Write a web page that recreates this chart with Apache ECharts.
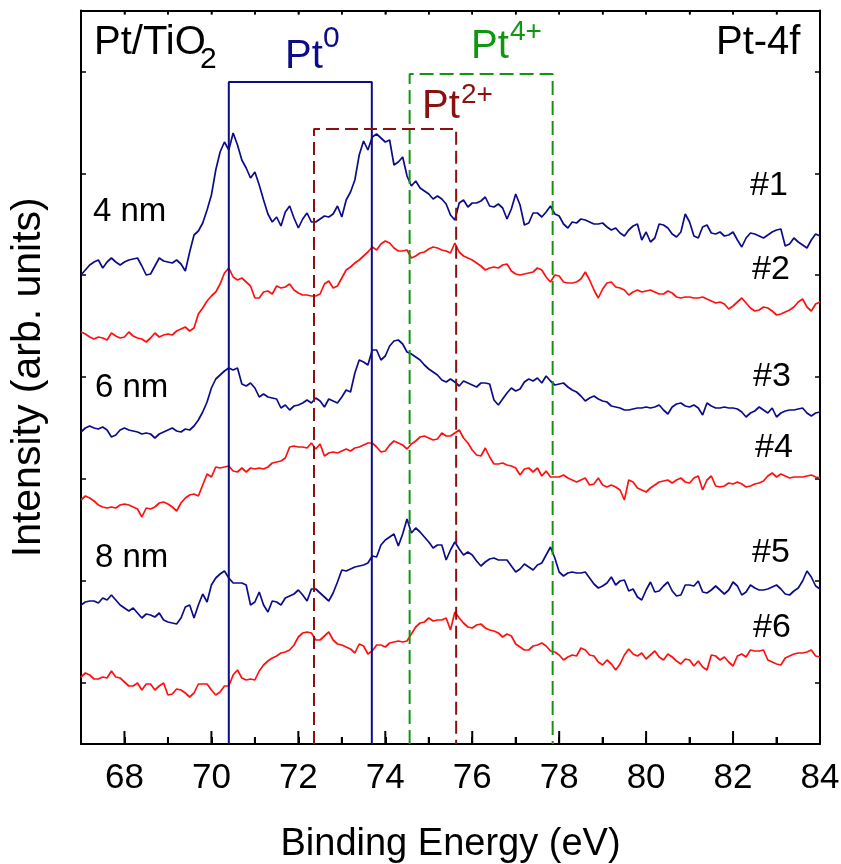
<!DOCTYPE html>
<html>
<head>
<meta charset="utf-8">
<script src="https://cdn.jsdelivr.net/npm/echarts@6/dist/echarts.min.js"></script>
<style>html,body{margin:0;padding:0;background:#fff}#chart{width:841px;height:864px}</style>
</head>
<body>
<div id="chart"></div>
<script>
// Binding energy sampling (eV)
const energy = [
67.0,67.1,67.2,67.3,67.4,67.5,67.6,67.7,67.8,67.9,
68.0,68.1,68.2,68.3,68.4,68.5,68.6,68.7,68.8,68.9,
69.0,69.1,69.2,69.3,69.4,69.5,69.6,69.7,69.8,69.9,
70.0,70.1,70.2,70.3,70.4,70.5,70.6,70.7,70.8,70.9,
71.0,71.1,71.2,71.3,71.4,71.5,71.6,71.7,71.8,71.9,
72.0,72.1,72.2,72.3,72.4,72.5,72.6,72.7,72.8,72.9,
73.0,73.1,73.2,73.3,73.4,73.5,73.6,73.7,73.8,73.9,
74.0,74.1,74.2,74.3,74.4,74.5,74.6,74.7,74.8,74.9,
75.0,75.1,75.2,75.3,75.4,75.5,75.6,75.7,75.8,75.9,
76.0,76.1,76.2,76.3,76.4,76.5,76.6,76.7,76.8,76.9,
77.0,77.1,77.2,77.3,77.4,77.5,77.6,77.7,77.8,77.9,
78.0,78.1,78.2,78.3,78.4,78.5,78.6,78.7,78.8,78.9,
79.0,79.1,79.2,79.3,79.4,79.5,79.6,79.7,79.8,79.9,
80.0,80.1,80.2,80.3,80.4,80.5,80.6,80.7,80.8,80.9,
81.0,81.1,81.2,81.3,81.4,81.5,81.6,81.7,81.8,81.9,
82.0,82.1,82.2,82.3,82.4,82.5,82.6,82.7,82.8,82.9,
83.0,83.1,83.2,83.3,83.4,83.5,83.6,83.7,83.8,83.9,
84.0];

// Intensities (arb. units, stacked with offsets as in the figure)
const spec1 = [ // #1, 4 nm
725,730,735,738,740,732,738,742,738,735,
738,740,741,742,734,725,726,734,742,739,
738,737,740,736,729,748,765,769,777,790,
805,830,848,858,850,867,855,840,832,822,
828,815,800,786,778,783,774,788,794,782,
772,781,787,778,778,781,784,783,786,794,
783,800,808,820,845,859,850,863,866,862,
858,860,835,838,843,824,814,819,812,809,
806,801,804,801,796,785,780,797,800,793,
797,797,799,803,794,793,796,792,781,791,
806,795,775,777,787,787,783,788,794,786,
784,776,772,778,777,781,780,778,776,776,
777,773,770,772,767,764,770,774,776,760,
768,758,762,776,775,772,766,763,768,786,
778,764,762,773,775,767,766,768,764,765,
768,760,753,762,767,766,764,762,765,768,
770,771,754,756,762,758,755,752,760,766,
764];
const spec2 = [ // #2, 4 nm
668,666,663,661,663,662,660,667,664,662,
663,668,664,662,661,658,662,667,663,665,
666,665,669,671,673,669,672,686,692,699,
704,708,716,727,732,723,720,722,718,714,
702,702,708,709,706,714,712,713,716,710,
707,705,705,704,704,706,716,719,712,714,
722,730,733,737,740,744,748,753,750,756,
759,757,752,749,749,750,742,744,747,748,
751,753,752,750,749,747,757,748,744,742,
740,737,734,730,732,733,732,735,736,729,
726,725,726,727,728,732,730,723,718,725,
724,718,717,717,718,721,728,720,710,702,
711,717,718,713,712,710,705,708,710,708,
709,710,708,706,706,709,707,703,702,703,
703,702,702,703,701,699,697,698,696,691,
694,698,702,697,692,689,690,693,692,689,
685,686,688,690,693,698,701,693,689,696,
698];
const spec3 = [ // #3, 6 nm
568,572,574,572,571,573,570,563,565,570,
572,570,569,568,566,567,566,562,566,568,
570,572,569,568,571,570,574,580,588,598,
612,621,625,629,632,630,632,616,614,617,
612,603,606,603,602,601,592,595,590,594,
595,597,600,597,602,599,593,601,599,597,
603,610,608,627,640,638,635,650,650,640,
644,654,659,660,656,648,646,643,640,635,
631,628,625,620,618,621,618,614,619,617,
615,613,617,617,616,600,595,601,607,612,
609,611,618,621,619,622,617,624,619,615,
616,617,613,610,608,604,599,602,604,601,
599,598,594,593,592,590,590,591,592,592,
593,592,593,595,590,586,593,596,597,594,
593,595,592,585,597,594,592,592,593,592,
592,591,588,583,587,589,593,590,587,592,
583,587,589,590,590,591,592,587,584,587,
588];
const spec4 = [ // #4, 6 nm
500,504,502,499,495,493,492,493,492,495,
496,495,493,491,483,492,491,493,497,498,
496,493,489,497,502,505,506,504,515,526,
523,533,532,533,534,529,528,532,528,532,
531,532,531,533,537,538,539,542,553,554,
553,553,552,557,551,556,544,547,548,547,
549,551,549,552,553,555,557,557,553,548,
549,555,559,557,555,551,556,559,563,564,
562,560,561,567,564,564,567,570,562,557,
550,545,544,552,543,536,536,537,535,534,
532,525,531,532,528,532,524,529,523,523,
523,525,522,520,518,520,522,515,516,522,
515,513,515,513,510,500,520,518,512,510,
508,512,515,518,519,520,517,520,522,518,
517,522,524,510,520,524,514,513,514,517,
516,518,516,513,514,516,517,519,524,527,
523,526,524,522,523,523,523,524,525,523,
522];
const spec5 = [ // #5, 8 nm
395,398,399,399,397,402,400,405,400,395,
392,389,392,387,382,386,385,383,387,380,
378,377,376,382,393,395,382,395,406,398,
415,422,426,429,422,417,417,417,415,395,
398,408,395,388,399,398,395,402,404,406,
410,405,399,411,411,407,403,399,407,418,
430,429,431,433,434,435,437,444,443,455,
460,463,466,454,466,481,467,472,468,463,
458,452,455,455,440,450,458,451,445,448,
445,439,434,438,441,442,440,440,440,434,
428,431,436,433,430,435,437,445,453,442,
428,424,427,428,427,427,428,422,416,412,
414,417,423,415,419,420,409,411,403,400,
410,418,408,409,414,418,409,404,405,415,
415,414,419,408,407,410,414,410,406,410,
418,414,405,408,415,412,410,410,411,413,
415,411,406,405,409,412,419,429,423,414,
411];
const spec6 = [ // #6, 8 nm
323,327,325,321,321,323,322,329,323,322,
318,314,314,317,310,316,316,310,314,317,
305,306,311,310,307,303,307,316,316,316,
310,305,308,314,314,325,330,322,320,321,
320,329,335,339,342,344,347,348,350,355,
363,367,368,367,360,360,364,368,360,356,
355,353,351,347,356,354,346,349,355,355,
353,357,358,359,358,359,366,373,377,378,
382,379,380,380,382,370,388,382,377,373,
372,375,376,372,370,369,367,363,366,364,
356,353,350,350,354,355,357,354,349,348,
345,340,343,345,344,352,350,345,344,338,
335,340,336,330,336,345,351,346,344,347,
341,345,349,343,340,346,343,339,336,341,
340,334,339,333,330,345,344,340,343,338,
334,344,346,343,350,349,349,350,340,338,
336,335,342,344,346,347,347,348,350,344,
343];

// Axis ticks
const xMin = 67, xMax = 84;
const xMajorTicks = [68,70,72,74,76,78,80,82,84];
const xMinorTicks = [69,71,73,75,77,79,81,83];
const xTopTicks = [68,69,70,71,72,73,74,75,76,77,78,79,80,81,82,83];
const yTicks = [317.2,419.1,521,622.9,724.8,826.7,928.6];
const yMin = 256, yMax = 989.5;

// Chemical-state reference boxes: [left eV, right eV, top level]
const boxPt0 = [70.40, 73.69, 918];
const boxPt2 = [72.36, 75.63, 871];
const boxPt4 = [74.56, 77.85, 926];

const FONT = '"Liberation Sans", Arial, Helvetica, sans-serif';
const NAVY = '#0c0c88';
const RED = '#ff1010';
const DARKRED = '#8b1010';
const GREEN = '#129612';

function specSeries(arr, color) {
  return {
    type: 'line', xAxisIndex: 0, yAxisIndex: 0,
    data: energy.map((e, i) => [e, arr[i]]),
    symbol: 'none', showSymbol: false, silent: true,
    lineStyle: { color: color, width: 1.7 },
    z: 3
  };
}
function boxSeries(b, color, dash) {
  return {
    type: 'line', xAxisIndex: 0, yAxisIndex: 0,
    data: [[b[0], yMin], [b[0], b[2]], [b[1], b[2]], [b[1], yMin]],
    symbol: 'none', showSymbol: false, silent: true,
    lineStyle: { color: color, width: 2, type: dash },
    z: 4
  };
}
// Inward tick marks on the x frame, placed through the axis scale
function tickSeries(values, atValue, len, width) {
  return {
    type: 'custom', xAxisIndex: 0, yAxisIndex: 0, silent: true, clip: false, z: 6,
    data: values.map(v => [v, atValue]),
    renderItem: (params, api) => {
      const p = api.coord([api.value(0), api.value(1)]);
      const dir = api.value(1) >= yMax ? 1 : -1;
      return {
        type: 'line',
        shape: { x1: p[0], y1: p[1], x2: p[0], y2: p[1] + dir * len },
        style: { stroke: '#000', lineWidth: width }
      };
    }
  };
}

const labels = [
  { t: 'Pt/TiO', x: 94, y: 43, s: 40, c: '#000' },
  { t: '2', x: 200, y: 60, s: 30, c: '#000' },
  { t: 'Pt', x: 285, y: 57, s: 40, c: NAVY },
  { t: '0', x: 323, y: 39, s: 30, c: NAVY },
  { t: 'Pt', x: 471, y: 47, s: 40, c: GREEN },
  { t: '4+', x: 510, y: 32, s: 28, c: GREEN },
  { t: 'Pt', x: 422, y: 107, s: 40, c: DARKRED },
  { t: '2+', x: 461, y: 95, s: 28, c: DARKRED },
  { t: 'Pt-4f', x: 716, y: 43, s: 40, c: '#000' },
  { t: '4 nm', x: 93, y: 212, s: 33, c: '#000' },
  { t: '6 nm', x: 95, y: 388, s: 33, c: '#000' },
  { t: '8 nm', x: 95, y: 558, s: 33, c: '#000' },
  { t: '#1', x: 750, y: 186, s: 34, c: '#000' },
  { t: '#2', x: 752, y: 270, s: 34, c: '#000' },
  { t: '#3', x: 753, y: 377, s: 34, c: '#000' },
  { t: '#4', x: 755, y: 448, s: 34, c: '#000' },
  { t: '#5', x: 752, y: 553, s: 34, c: '#000' },
  { t: '#6', x: 753, y: 628, s: 34, c: '#000' }
];

const axisLineStyle = { color: '#000', width: 2 };
const option = {
  animation: false,
  backgroundColor: '#fff',
  grid: { left: 81, right: 21, top: 10.5, bottom: 120, containLabel: false, outerBoundsMode: 'none' },
  xAxis: [
    {
      type: 'value', min: xMin, max: xMax, interval: 1, position: 'bottom',
      axisLine: { show: true, onZero: false, lineStyle: axisLineStyle },
      axisTick: { show: true, inside: true, length: 7, lineStyle: { color: '#000', width: 2 } },
      axisLabel: {
        show: true, fontSize: 35, fontFamily: FONT, color: '#000', margin: 17,
        showMinLabel: true, showMaxLabel: true,
        formatter: v => (Math.round(v) % 2 === 0 ? String(Math.round(v)) : '')
      },
      splitLine: { show: false },
      name: 'Binding Energy (eV)', nameLocation: 'middle', nameGap: 82,
      nameTextStyle: { fontSize: 38, fontFamily: FONT, color: '#000' }
    },
    {
      type: 'value', min: xMin, max: xMax, interval: 1, position: 'top',
      axisLine: { show: true, onZero: false, lineStyle: axisLineStyle },
      axisTick: { show: true, inside: true, length: 4, lineStyle: { color: '#000', width: 1.5 } },
      axisLabel: { show: false },
      splitLine: { show: false }
    }
  ],
  yAxis: [
    {
      type: 'value', min: yMin, max: yMax, position: 'left',
      axisLine: { show: true, onZero: false, lineStyle: axisLineStyle },
      axisTick: { show: true, inside: true, length: 5, customValues: yTicks, lineStyle: { color: '#000', width: 1.5 } },
      axisLabel: { show: false },
      splitLine: { show: false },
      name: 'Intensity (arb. units)', nameLocation: 'middle', nameGap: 32,
      nameTextStyle: { fontSize: 41, fontFamily: FONT, color: '#000' }
    },
    {
      type: 'value', min: yMin, max: yMax, position: 'right',
      axisLine: { show: true, onZero: false, lineStyle: axisLineStyle },
      axisTick: { show: true, inside: true, length: 5, customValues: yTicks, lineStyle: { color: '#000', width: 1.5 } },
      axisLabel: { show: false },
      splitLine: { show: false }
    }
  ],
  series: [
    specSeries(spec1, NAVY),
    specSeries(spec2, RED),
    specSeries(spec3, NAVY),
    specSeries(spec4, RED),
    specSeries(spec5, NAVY),
    specSeries(spec6, RED),
    boxSeries(boxPt0, NAVY, 'solid'),
    boxSeries(boxPt2, DARKRED, [13, 6]),
    boxSeries(boxPt4, GREEN, [14, 6]),
    tickSeries(xMajorTicks, yMin, 13, 2),
    tickSeries(xMinorTicks, yMin, 7, 2),
    tickSeries(xTopTicks, yMax, 4, 1.5)
  ],
  graphic: labels.map(l => ({
    type: 'text', x: l.x, y: l.y, silent: true, z: 10,
    style: {
      text: l.t, fill: l.c,
      font: l.s + 'px ' + FONT,
      textAlign: 'left', textVerticalAlign: 'middle',
      align: 'left', verticalAlign: 'middle'
    }
  }))
};
const chart = echarts.init(document.getElementById('chart'), null, { renderer: 'canvas' });
chart.setOption(option);
</script>
</body>
</html>
